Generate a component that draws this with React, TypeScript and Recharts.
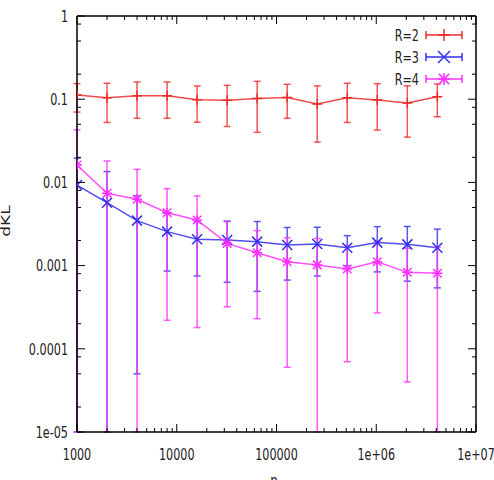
import React from 'react';
import { LineChart, Line, XAxis, YAxis, ErrorBar, Legend } from 'recharts';

// ---- data ----
const nValues = [1000, 2000, 4000, 8000, 16000, 32000, 64000, 128000, 256000, 512000, 1024000, 2048000, 4096000];
const r2Values = [0.112, 0.104, 0.11, 0.11, 0.0986, 0.097, 0.102, 0.105, 0.0875, 0.104, 0.098, 0.09, 0.107];
const r2Errors = [0.042, 0.0515, 0.051, 0.051, 0.0457, 0.05, 0.062, 0.046, 0.057, 0.0515, 0.0555, 0.055, 0.0455];
const r3Values = [0.0093, 0.0057, 0.00347, 0.00256, 0.00207, 0.00203, 0.00194, 0.00177, 0.00182, 0.00164, 0.00189, 0.0018, 0.00164];
const r3Errors = [0.0103, 0.0078, 0.00342, 0.0017, 0.00132, 0.0014, 0.00145, 0.0011, 0.00107, 0.00065, 0.00105, 0.00115, 0.0011];
const r4Values = [0.0162, 0.0074, 0.00626, 0.00432, 0.00353, 0.00185, 0.00143, 0.00111, 0.00102, 0.00091, 0.00111, 0.00083, 0.00081];
const r4Errors = [0.0265, 0.0107, 0.0081, 0.0041, 0.00335, 0.00153, 0.0012, 0.00105, 0.0011, 0.00084, 0.00084, 0.00079, 0.00085];

const seriesNames = ['R=2', 'R=3', 'R=4'];

const xMajorTicks = [1000, 10000, 100000, 1000000, 10000000];
const xTickLabels = ['1000', '10000', '100000', '1e+06', '1e+07'];
const yMajorTicks = [0.00001, 0.0001, 0.001, 0.01, 0.1, 1];
const yTickLabels = ['1e-05', '0.0001', '0.001', '0.01', '0.1', '1'];
const xMinorMultipliers = [2, 3, 4, 5, 6, 7, 8, 9];
const yMinorMultipliers = [2, 5, 8];

const yAxisTitle = 'dKL';
const xAxisTitle = 'n';

// ---- derived ----
const Y_MIN = yMajorTicks[0];
const Y_MAX = yMajorTicks[yMajorTicks.length - 1];
const X_MIN = xMajorTicks[0];
const X_MAX = xMajorTicks[xMajorTicks.length - 1];

const clampErr = (v: number, e: number): [number, number] => [Math.min(e, v - Y_MIN), e];

const rows = nValues.map((n, i) => ({
  n,
  r2: r2Values[i],
  r2e: clampErr(r2Values[i], r2Errors[i]),
  r3: r3Values[i],
  r3e: clampErr(r3Values[i], r3Errors[i]),
  r4: r4Values[i],
  r4e: clampErr(r4Values[i], r4Errors[i]),
}));

const xTicks = [
  ...xMajorTicks,
  ...xMajorTicks.slice(0, -1).flatMap((d) => xMinorMultipliers.map((m) => d * m)),
].sort((a, b) => a - b);
const yTicks = [
  ...yMajorTicks,
  ...yMajorTicks.slice(0, -1).flatMap((d) => yMinorMultipliers.map((m) => d * m)),
].sort((a, b) => a - b);

const majorIndex = (list: number[], v: number) =>
  list.findIndex((m) => Math.abs(m - v) / m < 1e-6);

// ---- style ----
const FONT = 'DejaVu Sans';
const SX = 0.7;
const RED = '#ee2c2c';
const BLUE = '#3030ee';
const MAGENTA = '#ff30ff';
const colors = [RED, BLUE, MAGENTA];
const AXIS = '#000';
const TEXT = '#222';
const MAJ = 8;
const MIN = 4;

const BottomTick = (props: any) => {
  const { x, y, payload } = props;
  const i = majorIndex(xMajorTicks, payload.value);
  return (
    <g>
      <line x1={x} x2={x} y1={y} y2={y - (i >= 0 ? MAJ : MIN)} stroke={AXIS} strokeWidth={1} />
      {i >= 0 && (
        <text transform={`translate(${x},${y + 28}) scale(${SX},1)`} textAnchor="middle" fontSize={16} fontFamily={FONT} fill={TEXT}>
          {xTickLabels[i]}
        </text>
      )}
    </g>
  );
};

const TopTick = (props: any) => {
  const { x, y, payload } = props;
  const i = majorIndex(xMajorTicks, payload.value);
  return <line x1={x} x2={x} y1={y} y2={y + (i >= 0 ? MAJ : MIN)} stroke={AXIS} strokeWidth={1} />;
};

const LeftTick = (props: any) => {
  const { x, y, payload } = props;
  const i = majorIndex(yMajorTicks, payload.value);
  return (
    <g>
      <line x1={x} x2={x + (i >= 0 ? MAJ : MIN)} y1={y} y2={y} stroke={AXIS} strokeWidth={1} />
      {i >= 0 && (
        <text transform={`translate(${x - 9},${y + 5.8}) scale(${SX},1)`} textAnchor="end" fontSize={16} fontFamily={FONT} fill={TEXT}>
          {yTickLabels[i]}
        </text>
      )}
    </g>
  );
};

const RightTick = (props: any) => {
  const { x, y, payload } = props;
  const i = majorIndex(yMajorTicks, payload.value);
  return <line x1={x} x2={x - (i >= 0 ? MAJ : MIN)} y1={y} y2={y} stroke={AXIS} strokeWidth={1} />;
};

const Marker = ({ cx, cy, kind, color, s = 5 }: any) => {
  if (cx == null || cy == null || isNaN(cx) || isNaN(cy)) return <g />;
  const plus = (
    <>
      <line x1={cx - s} x2={cx + s} y1={cy} y2={cy} stroke={color} strokeWidth={1.5} />
      <line x1={cx} x2={cx} y1={cy - s} y2={cy + s} stroke={color} strokeWidth={1.5} />
    </>
  );
  const c = kind === 'star' ? s * 0.85 : s;
  const cross = (
    <>
      <line x1={cx - c} x2={cx + c} y1={cy - c} y2={cy + c} stroke={color} strokeWidth={1.5} />
      <line x1={cx - c} x2={cx + c} y1={cy + c} y2={cy - c} stroke={color} strokeWidth={1.5} />
    </>
  );
  return (
    <g>
      {(kind === 'plus' || kind === 'star') && plus}
      {(kind === 'cross' || kind === 'star') && cross}
    </g>
  );
};

const kinds = ['plus', 'cross', 'star'];

const LegendBox = () => (
  <svg width={110} height={72} style={{ display: 'block', overflow: 'visible' }}>
    {seriesNames.map((name, i) => {
      const y = 15 + i * 22;
      return (
        <g key={name}>
          <text transform={`translate(39,${y + 5.8}) scale(${SX},1)`} textAnchor="end" fontSize={16} fontFamily={FONT} fill={TEXT}>
            {name}
          </text>
          <line x1={46} x2={82} y1={y} y2={y} stroke={colors[i]} strokeWidth={1.5} />
          <line x1={46} x2={46} y1={y - 4} y2={y + 4} stroke={colors[i]} strokeWidth={1.5} />
          <line x1={82} x2={82} y1={y - 4} y2={y + 4} stroke={colors[i]} strokeWidth={1.5} />
          <Marker cx={64} cy={y} kind={kinds[i]} color={colors[i]} s={6} />
        </g>
      );
    })}
  </svg>
);

const series = [
  { key: 'r2', err: 'r2e' },
  { key: 'r3', err: 'r3e' },
  { key: 'r4', err: 'r4e' },
];

export default function App() {
  return (
    <div style={{ position: 'absolute', left: 0, top: 0, width: 494, height: 480, background: '#fff' }}>
      <LineChart width={494} height={480} data={rows} margin={{ top: 6, right: 8, bottom: 18, left: 17 }}>
        <XAxis
          xAxisId="b"
          dataKey="n"
          type="number"
          scale="log"
          domain={[X_MIN, X_MAX]}
          allowDataOverflow
          ticks={xTicks}
          interval={0}
          tick={<BottomTick />}
          tickLine={false}
          tickSize={0}
          tickMargin={0}
          axisLine={{ stroke: AXIS, strokeWidth: 1.5 }}
          height={30}
        />
        <XAxis
          xAxisId="t"
          orientation="top"
          dataKey="n"
          type="number"
          scale="log"
          domain={[X_MIN, X_MAX]}
          allowDataOverflow
          ticks={xTicks}
          interval={0}
          tick={<TopTick />}
          tickLine={false}
          tickSize={0}
          tickMargin={0}
          axisLine={{ stroke: AXIS, strokeWidth: 1.5 }}
          height={10}
        />
        <YAxis
          yAxisId="l"
          type="number"
          scale="log"
          domain={[Y_MIN, Y_MAX]}
          allowDataOverflow
          ticks={yTicks}
          interval={0}
          tick={<LeftTick />}
          tickLine={false}
          tickSize={0}
          tickMargin={0}
          axisLine={{ stroke: AXIS, strokeWidth: 1.5 }}
          width={60}
        />
        <YAxis
          yAxisId="r"
          orientation="right"
          type="number"
          scale="log"
          domain={[Y_MIN, Y_MAX]}
          allowDataOverflow
          ticks={yTicks}
          interval={0}
          tick={<RightTick />}
          tickLine={false}
          tickSize={0}
          tickMargin={0}
          axisLine={{ stroke: AXIS, strokeWidth: 1.5 }}
          width={10}
        />
        {series.map((s, i) => (
          <Line
            key={s.key}
            xAxisId="b"
            yAxisId="l"
            dataKey={s.key}
            name={seriesNames[i]}
            stroke={colors[i]}
            strokeWidth={1.5}
            strokeOpacity={0.85}
            isAnimationActive={false}
            activeDot={false}
            dot={(p: any) => <Marker key={`${s.key}-${p.index}`} cx={p.cx} cy={p.cy} kind={kinds[i]} color={colors[i]} />}
          >
            <ErrorBar dataKey={s.err} width={3.5} stroke={colors[i]} strokeWidth={1.5} strokeOpacity={0.8} direction="y" isAnimationActive={false} />
          </Line>
        ))}
        <Legend
          layout="horizontal"
          verticalAlign="middle"
          align="center"
          wrapperStyle={{ position: 'absolute', left: 380, top: 20, width: 110, height: 72 }}
          content={() => <LegendBox />}
        />
        <text transform={`translate(10,221) scale(${SX},1) rotate(-90)`} textAnchor="middle" fontSize={17} fontFamily={FONT} fill={TEXT}>
          {yAxisTitle}
        </text>
        <text transform={`translate(274,487) scale(${SX},1)`} textAnchor="middle" fontSize={17} fontFamily={FONT} fill={TEXT}>
          {xAxisTitle}
        </text>
      </LineChart>
    </div>
  );
}
